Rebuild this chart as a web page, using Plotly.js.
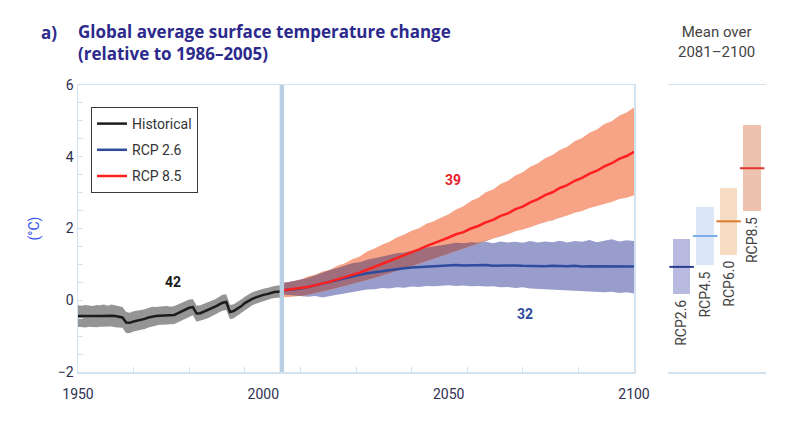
<!DOCTYPE html>
<html>
<head>
<meta charset="utf-8">
<script src="https://cdn.plot.ly/plotly-3.0.1.min.js"></script>
<style>
  html, body { margin: 0; padding: 0; background: #ffffff; }
  #chart { width: 800px; height: 422px; }
</style>
</head>
<body>
<div id="chart"></div>
<script>
// ---------------- Data ----------------
const histYears = [1950,1951,1952,1953,1954,1955,1956,1957,1958,1959,1960,1961,1962,1963,1964,1965,1966,1967,1968,1969,1970,1971,1972,1973,1974,1975,1976,1977,1978,1979,1980,1981,1982,1983,1984,1985,1986,1987,1988,1989,1990,1991,1992,1993,1994,1995,1996,1997,1998,1999,2000,2001,2002,2003,2004,2005];
const histMean = [-0.44,-0.45,-0.44,-0.44,-0.45,-0.44,-0.44,-0.43,-0.44,-0.43,-0.44,-0.45,-0.48,-0.62,-0.63,-0.59,-0.57,-0.55,-0.52,-0.48,-0.45,-0.44,-0.43,-0.42,-0.42,-0.42,-0.41,-0.36,-0.31,-0.26,-0.21,-0.19,-0.37,-0.36,-0.32,-0.28,-0.24,-0.18,-0.12,-0.07,-0.05,-0.33,-0.30,-0.24,-0.17,-0.08,-0.01,0.04,0.08,0.12,0.15,0.17,0.21,0.23,0.24,0.25];
const histHi = [-0.14,-0.15,-0.13,-0.14,-0.16,-0.13,-0.14,-0.12,-0.15,-0.12,-0.14,-0.16,-0.19,-0.33,-0.35,-0.31,-0.30,-0.27,-0.25,-0.21,-0.18,-0.19,-0.17,-0.17,-0.16,-0.18,-0.16,-0.11,-0.07,-0.02,0.02,0.03,-0.15,-0.14,-0.10,-0.06,-0.03,0.03,0.09,0.15,0.17,-0.13,-0.11,-0.05,0.02,0.10,0.17,0.22,0.26,0.30,0.32,0.34,0.38,0.40,0.41,0.42];
const histLo = [-0.74,-0.75,-0.76,-0.74,-0.75,-0.75,-0.74,-0.73,-0.74,-0.73,-0.75,-0.75,-0.77,-0.92,-0.91,-0.87,-0.85,-0.83,-0.80,-0.76,-0.73,-0.70,-0.68,-0.68,-0.67,-0.67,-0.66,-0.61,-0.56,-0.51,-0.46,-0.42,-0.60,-0.58,-0.54,-0.50,-0.46,-0.40,-0.34,-0.29,-0.27,-0.53,-0.50,-0.43,-0.36,-0.27,-0.20,-0.14,-0.10,-0.06,-0.03,0.00,0.04,0.06,0.07,0.08];

const projYears = [2005,2008,2010,2012,2014,2016,2018,2020,2022,2024,2026,2028,2030,2032,2034,2036,2038,2040,2042,2044,2046,2048,2050,2052,2054,2056,2058,2060,2062,2064,2066,2068,2070,2072,2074,2076,2078,2080,2082,2084,2086,2088,2090,2092,2094,2096,2098,2100];

const rcp85Mean = [0.27,0.30,0.34,0.37,0.43,0.47,0.52,0.58,0.63,0.71,0.77,0.85,0.93,1.00,1.08,1.16,1.26,1.33,1.42,1.51,1.58,1.67,1.75,1.84,1.90,2.00,2.07,2.17,2.24,2.35,2.42,2.54,2.61,2.73,2.81,2.93,3.01,3.13,3.21,3.33,3.41,3.53,3.61,3.73,3.82,3.94,4.02,4.14];
const rcp85Hi = [0.47,0.53,0.57,0.66,0.71,0.80,0.85,0.96,1.03,1.14,1.22,1.36,1.44,1.55,1.63,1.75,1.83,1.94,2.01,2.13,2.20,2.31,2.40,2.53,2.62,2.77,2.86,3.01,3.09,3.24,3.33,3.48,3.57,3.72,3.81,3.96,4.05,4.19,4.28,4.43,4.52,4.67,4.76,4.91,4.99,5.14,5.23,5.37];
const rcp85Lo = [0.08,0.10,0.12,0.15,0.19,0.24,0.29,0.35,0.40,0.46,0.51,0.57,0.62,0.69,0.75,0.82,0.88,0.95,1.02,1.09,1.16,1.23,1.30,1.38,1.44,1.52,1.58,1.66,1.71,1.79,1.84,1.92,1.97,2.05,2.11,2.18,2.23,2.31,2.36,2.44,2.49,2.57,2.62,2.69,2.74,2.82,2.86,2.93];

const rcp26Mean = [0.27,0.30,0.33,0.37,0.42,0.47,0.53,0.58,0.62,0.67,0.71,0.75,0.78,0.82,0.84,0.87,0.89,0.91,0.92,0.94,0.95,0.97,0.97,0.98,0.97,0.98,0.97,0.98,0.96,0.97,0.96,0.97,0.96,0.95,0.96,0.95,0.96,0.95,0.95,0.96,0.94,0.95,0.95,0.94,0.95,0.95,0.94,0.94];
const rcp26Hi = [0.49,0.52,0.58,0.62,0.70,0.76,0.84,0.90,0.96,1.03,1.06,1.13,1.17,1.22,1.25,1.31,1.33,1.38,1.42,1.47,1.50,1.54,1.57,1.60,1.59,1.62,1.60,1.63,1.59,1.64,1.61,1.63,1.60,1.65,1.61,1.64,1.62,1.66,1.61,1.65,1.63,1.68,1.62,1.66,1.70,1.64,1.67,1.65];
const rcp26Lo = [0.16,0.13,0.12,0.10,0.12,0.08,0.12,0.16,0.20,0.23,0.28,0.30,0.31,0.34,0.33,0.36,0.35,0.38,0.37,0.40,0.39,0.41,0.42,0.40,0.41,0.39,0.40,0.38,0.39,0.36,0.37,0.34,0.36,0.33,0.32,0.30,0.31,0.28,0.29,0.26,0.27,0.24,0.25,0.22,0.24,0.20,0.22,0.19];

const refYear = [2005];
const modelCounts = { hist: 42, rcp85: 39, rcp26: 32 };
const countLabelX = [1975.5, 2051.2, 2070.6];
const countLabelY = [0.50, 3.34, -0.39];

const scenarios = ['RCP2.6', 'RCP4.5', 'RCP6.0', 'RCP8.5'];
const endLo = [0.17, 0.97, 1.26, 2.49];
const endHi = [1.70, 2.61, 3.12, 4.89];
const endMean = [0.93, 1.79, 2.20, 3.68];

// ---------------- Styles ----------------
const C = {
  histLine: '#1c1c1c', histBand: '#959595',
  r26Line: '#2e4b9d', r26Band: '#999dcc',
  r85Line: '#ff2020', r85Band: '#f6a386',
  overlap: '#9f6d7b',
  axis: '#d3e2ef', tickTxt: '#2d3050'
};
const boxFill = ['#b8badf', '#dbe6f6', '#f6dcc3', '#edc3b0'];
const boxLine = ['#2c3a8f', '#7aaee8', '#dd7a2c', '#e0342c'];

// overlap of the two projection ranges (derived from data)
const ovLo = projYears.map((_, i) => Math.max(rcp85Lo[i], rcp26Lo[i]));
const ovHi = projYears.map((_, i) => Math.max(ovLo[i], Math.min(rcp85Hi[i], rcp26Hi[i])));

function band(x, lo, hi, color) {
  return [
    { x: x, y: lo, type: 'scatter', mode: 'lines', line: { width: 0, color: color }, showlegend: false, hoverinfo: 'skip', xaxis: 'x', yaxis: 'y' },
    { x: x, y: hi, type: 'scatter', mode: 'lines', line: { width: 0, color: color }, fill: 'tonexty', fillcolor: color, showlegend: false, hoverinfo: 'skip', xaxis: 'x', yaxis: 'y' }
  ];
}

const traces = [
  ...band(histYears, histLo, histHi, C.histBand),
  ...band(projYears, rcp26Lo, rcp26Hi, C.r26Band),
  ...band(projYears, rcp85Lo, rcp85Hi, C.r85Band),
  ...band(projYears, ovLo, ovHi, C.overlap),
  { x: histYears, y: histMean, type: 'scatter', mode: 'lines', name: 'Historical', legendgroup: 'h', line: { color: C.histLine, width: 2.5 }, xaxis: 'x', yaxis: 'y' },
  { x: projYears, y: rcp26Mean, type: 'scatter', mode: 'lines', name: 'RCP 2.6', legendgroup: 'a', line: { color: C.r26Line, width: 2.5 }, xaxis: 'x', yaxis: 'y' },
  { x: projYears, y: rcp85Mean, type: 'scatter', mode: 'lines', name: 'RCP 8.5', legendgroup: 'b', line: { color: C.r85Line, width: 2.5 }, xaxis: 'x', yaxis: 'y' },
  // right panel: 2081-2100 ranges
  { x: scenarios, base: endLo, y: endHi.map((h, i) => h - endLo[i]), type: 'bar', width: 0.74,
    marker: { color: boxFill, line: { width: 0 } }, showlegend: false, hoverinfo: 'skip', xaxis: 'x2', yaxis: 'y2' },
  { x: scenarios, y: endMean, type: 'scatter', mode: 'markers',
    marker: { symbol: 'line-ew', size: 17.5, line: { color: boxLine, width: 2 } }, showlegend: false, hoverinfo: 'skip', xaxis: 'x2', yaxis: 'y2' }
];

const W = 800, H = 422, ML = 78, MR = 34, MT = 85, MB = 50;
const PW = W - ML - MR, PH = H - MT - MB;
const px2paperX = p => (p - ML) / PW;
const px2paperY = p => 1 - (p - MT) / PH;

const tickFont = { family: 'Roboto, sans-serif', size: 14, color: C.tickTxt };
const titleFont = { family: '"Open Sans", sans-serif', size: 17, color: '#2c2a8c', weight: 'bold' };

const annotations = [
  { text: 'a)', xref: 'paper', yref: 'paper', x: px2paperX(39), y: px2paperY(33), xanchor: 'left', yanchor: 'middle', showarrow: false,
    font: titleFont },
  { text: '<b>' + modelCounts.hist + '</b>', xref: 'x', yref: 'y', x: countLabelX[0], y: countLabelY[0], showarrow: false,
    font: { family: 'Roboto, sans-serif', size: 14, color: '#1a1a1a' } },
  { text: '<b>' + modelCounts.rcp85 + '</b>', xref: 'x', yref: 'y', x: countLabelX[1], y: countLabelY[1], showarrow: false,
    font: { family: 'Roboto, sans-serif', size: 14, color: '#e8202a' } },
  { text: '<b>' + modelCounts.rcp26 + '</b>', xref: 'x', yref: 'y', x: countLabelX[2], y: countLabelY[2], showarrow: false,
    font: { family: 'Roboto, sans-serif', size: 14, color: '#2e4b9d' } },
  { text: 'Mean over<br>2081–2100', xref: 'x2', yref: 'paper', x: 1.5, y: px2paperY(42), xanchor: 'center', yanchor: 'middle', showarrow: false,
    font: { family: 'Roboto, sans-serif', size: 15, color: '#444444' } },
  ...scenarios.map((s, i) => ({
    text: s, xref: 'x2', yref: 'y2', x: s, y: endLo[i], xanchor: 'center', yanchor: 'top', yshift: -4, textangle: -90, showarrow: false,
    font: { family: 'Roboto, sans-serif', size: 14, color: '#444444' }
  }))
];

const layout = {
  width: W, height: H,
  margin: { l: ML, r: MR, t: MT, b: MB, pad: 0 },
  paper_bgcolor: '#ffffff', plot_bgcolor: '#ffffff',
  title: {
    text: 'Global average surface temperature change<br>(relative to 1986–2005)',
    xref: 'paper', x: 0, xanchor: 'left',
    yref: 'container', y: 1 - 38 / H, yanchor: 'middle',
    font: titleFont
  },
  showlegend: true,
  legend: {
    x: px2paperX(91), y: px2paperY(107), xanchor: 'left', yanchor: 'top',
    bgcolor: '#ffffff', bordercolor: '#3a3a3a', borderwidth: 1,
    font: { family: 'Roboto, sans-serif', size: 14, color: '#333333' },
    traceorder: 'grouped', tracegroupgap: 5, itemwidth: 30
  },
  xaxis: {
    domain: [0, (634 - ML) / PW], range: [1950, 2100], anchor: 'y',
    tickmode: 'linear', tick0: 1950, dtick: 50, ticks: '', tickfont: tickFont,
    ticklabelstandoff: 9,
    showgrid: false, zeroline: false,
    showline: true, linecolor: C.axis, linewidth: 1.5, mirror: true,
    minor: { tickmode: 'linear', tick0: 1950, dtick: 15, ticks: 'inside', ticklen: 5, tickcolor: C.axis, tickwidth: 1, showgrid: false }
  },
  yaxis: {
    domain: [0, 1], range: [-2, 6], anchor: 'x',
    tickmode: 'linear', tick0: -2, dtick: 2, ticks: 'inside', ticklen: 5, tickcolor: C.axis, tickfont: tickFont,
    showgrid: false, zeroline: false,
    showline: true, linecolor: C.axis, linewidth: 1.5, mirror: true,
    minor: { dtick: 0.5, ticks: 'inside', ticklen: 5, tickcolor: C.axis, tickwidth: 1, showgrid: false },
    title: { text: '(°C)', standoff: 15, font: { family: 'Roboto, sans-serif', size: 14, color: '#3355ee' } }
  },
  xaxis2: {
    domain: [(668 - ML) / PW, 1], anchor: 'y2', type: 'category',
    range: [-0.58, 3.59], showticklabels: false, ticks: '',
    showgrid: false, zeroline: false,
    showline: true, linecolor: C.axis, linewidth: 1.5, mirror: true
  },
  yaxis2: {
    domain: [0, 1], range: [-2, 6], anchor: 'x2', visible: false, showgrid: false, zeroline: false
  },
  shapes: refYear.map(yr => ({
    type: 'rect', xref: 'x', yref: 'paper', x0: yr - 0.6, x1: yr + 0.6, y0: 0, y1: 1,
    fillcolor: '#b9cfe3', line: { width: 0 }, layer: 'above'
  })),
  annotations: annotations,
  bargap: 0
};

Plotly.newPlot('chart', traces, layout, { displayModeBar: false, staticPlot: true });
</script>
</body>
</html>
